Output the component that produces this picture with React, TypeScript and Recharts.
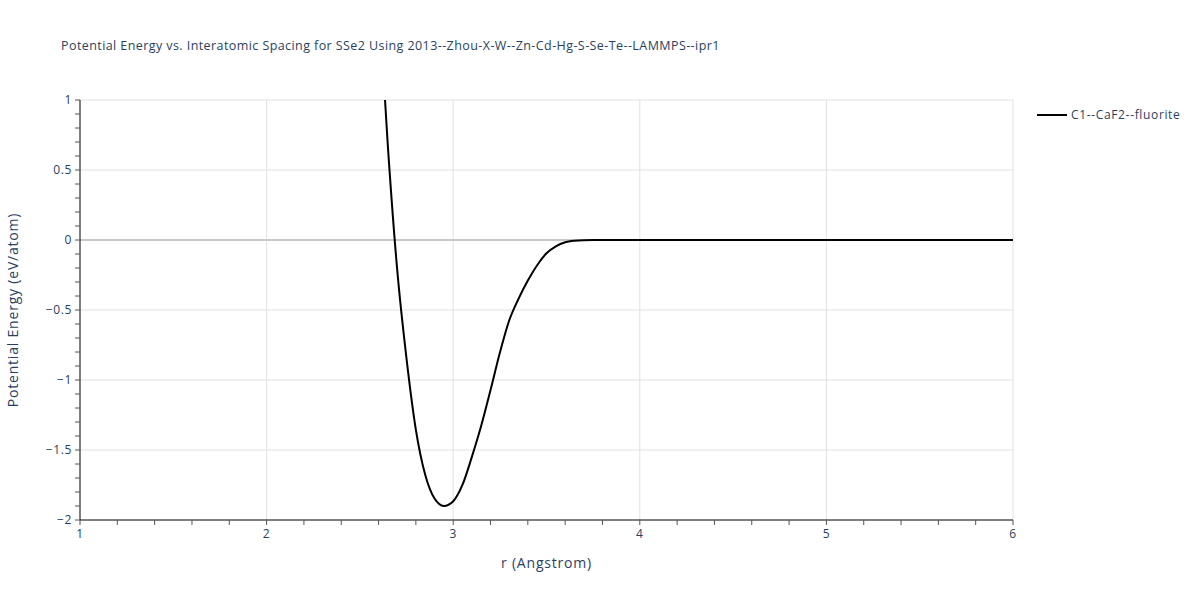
import React from 'react';
import { LineChart, Line, XAxis, YAxis, ReferenceLine } from 'recharts';

const rValues = [2.6, 2.65, 2.7, 2.75, 2.8, 2.85, 2.9, 2.95, 3.0, 3.05, 3.1, 3.15, 3.2, 3.25, 3.3, 3.35, 3.4, 3.45, 3.5, 3.55, 3.6, 3.65, 3.7, 3.75, 3.8, 4.0, 4.5, 5.0, 5.5, 6.0];
const energyValues = [1.75, 0.667, -0.214, -0.849, -1.356, -1.677, -1.847, -1.9, -1.866, -1.748, -1.549, -1.327, -1.072, -0.805, -0.575, -0.42, -0.29, -0.18, -0.095, -0.045, -0.016, -0.005, -0.001, 0, 0, 0, 0, 0, 0, 0];
const xTicks = [1, 1.2, 1.4, 1.6, 1.8, 2, 2.2, 2.4, 2.6, 2.8, 3, 3.2, 3.4, 3.6, 3.8, 4, 4.2, 4.4, 4.6, 4.8, 5, 5.2, 5.4, 5.6, 5.8, 6];
const yTicks = [-2, -1.9, -1.8, -1.7, -1.6, -1.5, -1.4, -1.3, -1.2, -1.1, -1, -0.9, -0.8, -0.7, -0.6, -0.5, -0.4, -0.3, -0.2, -0.1, 0, 0.1, 0.2, 0.3, 0.4, 0.5, 0.6, 0.7, 0.8, 0.9, 1];
const xGrid = [2, 3, 4, 5, 6];
const yGrid = [-1.5, -1, -0.5, 0.5, 1];
const seriesName = 'C1--CaF2--fluorite';
const title = 'Potential Energy vs. Interatomic Spacing for SSe2 Using 2013--Zhou-X-W--Zn-Cd-Hg-S-Se-Te--LAMMPS--ipr1';
const xLabel = 'r (Angstrom)';
const yLabel = 'Potential Energy (eV/atom)';

const data = rValues.map((r, i) => ({ r, e: energyValues[i] }));

const FONT = '"Open Sans", verdana, arial, sans-serif';
const TXT = '#2a3f5f';

const fmtX = (v: number) => (Math.abs(v - Math.round(v)) < 1e-9 ? String(Math.round(v)) : '');
const fmtY = (v: number) => {
  if (Math.abs(v * 2 - Math.round(v * 2)) > 1e-9) return '';
  const s = String(Math.abs(Math.round(v * 2) / 2));
  return v < -1e-9 ? '\u2212' + s : s;
};

export default function App() {
  return (
    <div style={{ position: 'absolute', left: 0, top: 0, width: 1200, height: 600, background: '#fff' }}>
      <div style={{ position: 'absolute', left: 61, top: 37, fontFamily: FONT, fontSize: 12.5, letterSpacing: 0.42, color: TXT, whiteSpace: 'nowrap' }}>{title}</div>
      <div style={{ position: 'absolute', left: 1035, top: 106, display: 'flex', alignItems: 'center', fontFamily: FONT, fontSize: 12, letterSpacing: 0.65, color: TXT, whiteSpace: 'nowrap' }}>
        <svg width={36} height={16}>
          <line x1={2} y1={8} x2={32} y2={8} stroke="#000" strokeWidth={2} />
        </svg>
        <span>{seriesName}</span>
      </div>
      <LineChart width={1200} height={600} data={data} margin={{ top: 100, right: 187, bottom: 50, left: 30 }}>
        {xGrid.map((x) => (
          <ReferenceLine key={'x' + x} x={x} stroke="#e1e1e1" strokeWidth={1} />
        ))}
        {yGrid.map((y) => (
          <ReferenceLine key={'y' + y} y={y} stroke="#e1e1e1" strokeWidth={1} />
        ))}
        <ReferenceLine y={0} stroke="#c8c8c8" strokeWidth={2} />
        <XAxis
          dataKey="r"
          type="number"
          domain={[1, 6]}
          ticks={xTicks}
          interval={0}
          tickFormatter={fmtX}
          stroke="#000"
          tickLine={{ stroke: '#555' }}
          tickSize={5}
          tickMargin={4}
          height={30}
          tick={{ fill: TXT, fontSize: 12, fontFamily: FONT, letterSpacing: 0.6 }}
          allowDataOverflow
          label={{ value: xLabel, position: 'insideBottom', offset: -18, fill: TXT, fontSize: 14, fontFamily: FONT, letterSpacing: 0.8 }}
        />
        <YAxis
          type="number"
          domain={[-2, 1]}
          ticks={yTicks}
          interval={0}
          tickFormatter={fmtY}
          stroke="#000"
          tickLine={{ stroke: '#555' }}
          tickSize={5}
          tickMargin={3}
          width={50}
          allowDataOverflow
          tick={{ fill: TXT, fontSize: 12, fontFamily: FONT, letterSpacing: 0.6 }}
          label={{
            value: yLabel,
            content: () => (
              <text x={18} y={310} transform="rotate(-90 18 310)" textAnchor="middle" fill={TXT} fontSize={14} fontFamily={FONT} letterSpacing={0.8}>
                {yLabel}
              </text>
            ),
          }}
        />
        <Line dataKey="e" type="monotone" stroke="#000" strokeWidth={2} dot={false} isAnimationActive={false} name={seriesName} />
      </LineChart>
    </div>
  );
}
